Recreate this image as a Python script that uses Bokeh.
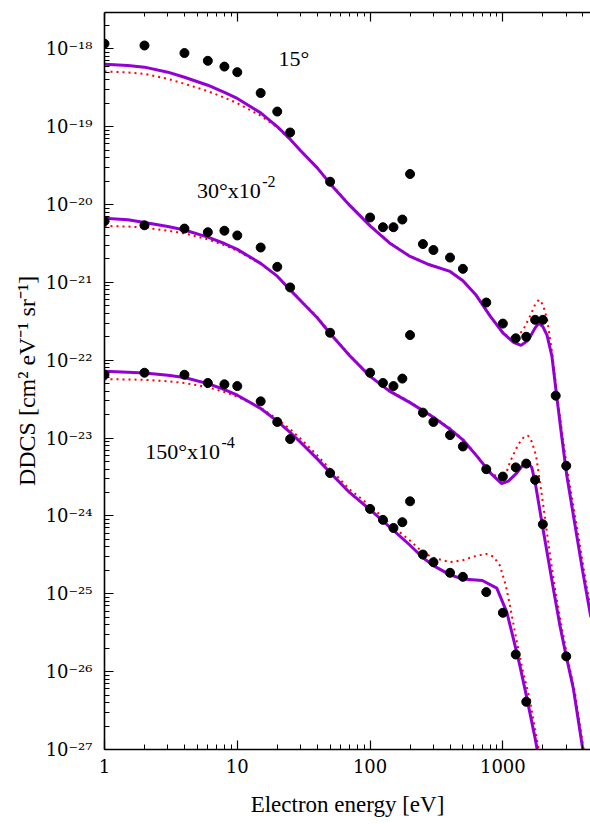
from bokeh.plotting import figure
from bokeh.models import Label, FixedTicker, LogAxis, Range1d, CustomJSTickFormatter
from bokeh.embed import file_html
from bokeh.resources import INLINE

# ---------------- data ----------------
# experimental points (15 deg, 30 deg x1e-2, 150 deg x1e-4)
e15_exp = [1, 2, 4, 6, 8, 10, 15, 20, 25, 50, 100, 125, 150, 175, 200, 250, 300, 400, 500,
           750, 1000, 1250, 1500, 1750, 2000, 2500, 3000]
v15_exp = [1.16e-18, 1.10e-18, 8.8e-19, 7.0e-19, 5.9e-19, 5.0e-19, 2.7e-19, 1.56e-19, 8.4e-20,
           1.96e-20, 6.8e-21, 5.1e-21, 5.1e-21, 6.4e-21, 2.46e-20, 3.1e-21, 2.6e-21, 2.08e-21,
           1.49e-21, 5.5e-22, 2.95e-22, 1.91e-22, 2.0e-22, 3.3e-22, 3.3e-22, 3.5e-23, 4.4e-24]

e30_exp = [1, 2, 4, 6, 8, 10, 15, 20, 25, 50, 100, 125, 150, 175, 200, 250, 300, 400, 500,
           750, 1000, 1250, 1500, 1750, 2000, 3000]
v30_exp = [6.1e-21, 5.4e-21, 4.9e-21, 4.4e-21, 4.6e-21, 4.0e-21, 2.8e-21, 1.58e-21, 8.6e-22,
           2.25e-22, 6.9e-23, 5.1e-23, 4.65e-23, 5.8e-23, 2.1e-22, 2.12e-23, 1.61e-23, 1.09e-23,
           7.8e-24, 3.98e-24, 3.2e-24, 4.2e-24, 4.7e-24, 2.9e-24, 7.8e-25, 1.57e-26]

e150_exp = [1, 2, 4, 6, 8, 10, 15, 20, 25, 50, 100, 125, 150, 175, 200, 250, 300, 400, 500,
            750, 1000, 1250, 1500]
v150_exp = [6.5e-23, 6.9e-23, 6.5e-23, 5.1e-23, 4.9e-23, 4.65e-23, 2.96e-23, 1.61e-23, 9.7e-24,
            3.55e-24, 1.23e-24, 8.9e-25, 7.0e-25, 8.3e-25, 1.54e-24, 3.19e-25, 2.54e-25, 1.86e-25,
            1.65e-25, 1.05e-25, 5.7e-26, 1.66e-26, 4.1e-27]

# theory, solid (purple)
e15_a = [1, 1.5, 2, 3, 4, 6, 8, 10, 15, 20, 25, 30, 40, 50, 70, 100, 140, 200, 280, 400, 500,
         630, 800, 1000, 1200, 1370, 1550, 1750, 1870, 2000, 2150, 2340, 2540, 2770, 3030, 3600,
         4000, 4600]
v15_a = [6.3e-19, 6.1e-19, 5.8e-19, 5.0e-19, 4.3e-19, 3.4e-19, 2.75e-19, 2.3e-19, 1.5e-19,
         1.0e-19, 6.9e-20, 4.9e-20, 2.95e-20, 1.85e-20, 9.8e-21, 5.3e-21, 3.2e-21, 2.15e-21,
         1.68e-21, 1.38e-21, 1.05e-21, 6.8e-22, 3.7e-22, 2.25e-22, 1.7e-22, 1.55e-22, 1.8e-22,
         2.6e-22, 3.0e-22, 2.7e-22, 2.1e-22, 1.13e-22, 3.5e-23, 1.07e-23, 3.3e-24, 5.6e-25,
         1.9e-25, 5e-26]

e30_a = [1, 1.5, 2, 3, 4, 6, 8, 10, 15, 20, 25, 30, 40, 50, 70, 100, 140, 200, 300, 400, 500,
         635, 800, 980, 1100, 1260, 1400, 1530, 1650, 1750, 2000, 2400, 2690, 3000, 3400, 4000,
         4600]
v30_a = [6.65e-21, 6.35e-21, 5.85e-21, 5.2e-21, 4.7e-21, 3.8e-21, 3.15e-21, 2.65e-21, 1.75e-21,
         1.2e-21, 8.0e-22, 5.8e-22, 3.5e-22, 2.2e-22, 1.15e-22, 6.2e-23, 4.0e-23, 2.85e-23,
         1.85e-23, 1.3e-23, 9.5e-24, 5.9e-24, 3.6e-24, 2.6e-24, 2.8e-24, 3.5e-24, 4.4e-24,
         4.9e-24, 4.2e-24, 2.7e-24, 7.0e-25, 1.16e-25, 3.9e-26, 1.58e-26, 6.0e-27, 1.0e-27,
         2.0e-28]

e150_a = [1, 1.5, 2, 3, 4, 6, 8, 10, 15, 20, 25, 30, 40, 50, 70, 100, 150, 200, 250, 300, 400,
          500, 700, 900, 1070, 1200, 1340, 1500, 1750, 2000]
v150_a = [7.2e-23, 7.0e-23, 6.85e-23, 6.4e-23, 6.0e-23, 5.0e-23, 4.2e-23, 3.55e-23, 2.4e-23,
          1.65e-23, 1.18e-23, 8.8e-24, 5.4e-24, 3.6e-24, 2.0e-24, 1.2e-24, 6.5e-25, 4.2e-25,
          2.9e-25, 2.3e-25, 1.75e-25, 1.55e-25, 1.48e-25, 1.18e-25, 5.8e-26, 2.65e-26, 1.21e-26,
          5.0e-27, 1.39e-27, 4e-28]

# theory, dotted (red)
e15_b = [1, 1.5, 2, 3, 4, 6, 8, 10, 15, 20, 25, 30, 40, 50, 70, 100, 140, 200, 280, 400, 500,
         630, 800, 1000, 1200, 1300, 1430, 1600, 1750, 1870, 2000, 2150, 2340, 2600, 2850, 3100,
         3700, 4100, 4600]
v15_b = [5.1e-19, 4.95e-19, 4.75e-19, 4.1e-19, 3.55e-19, 2.85e-19, 2.35e-19, 2.0e-19, 1.38e-19,
         9.8e-20, 6.8e-20, 4.9e-20, 3.0e-20, 1.88e-20, 1.0e-20, 5.4e-21, 3.25e-21, 2.18e-21,
         1.7e-21, 1.39e-21, 1.06e-21, 6.8e-22, 3.7e-22, 2.2e-22, 1.9e-22, 2.05e-22, 2.5e-22,
         3.66e-22, 5.2e-22, 6.0e-22, 5.2e-22, 3.4e-22, 1.3e-22, 2.9e-23, 9e-24, 3.3e-24, 5.6e-25,
         1.9e-25, 6e-26]

e30_b = [1, 1.5, 2, 3, 4, 6, 8, 10, 15, 20, 25, 30, 40, 50, 70, 100, 140, 200, 300, 400, 500,
         635, 800, 950, 1050, 1130, 1300, 1450, 1550, 1650, 1780, 2000, 2200, 2500, 2800, 3100,
         3500, 4100, 4600]
v30_b = [5.3e-21, 5.2e-21, 5.05e-21, 4.6e-21, 4.25e-21, 3.55e-21, 3.0e-21, 2.55e-21, 1.72e-21,
         1.2e-21, 8.1e-22, 5.9e-22, 3.6e-22, 2.25e-22, 1.17e-22, 6.3e-23, 4.1e-23, 2.9e-23,
         1.88e-23, 1.33e-23, 9.6e-24, 6.0e-24, 3.7e-24, 3.0e-24, 3.4e-24, 4.9e-24, 8.2e-24,
         1.05e-23, 1.07e-23, 9.0e-24, 5.9e-24, 1.5e-24, 4.5e-25, 1.0e-25, 3.4e-26, 1.4e-26,
         5.2e-27, 9e-28, 2.2e-28]

e150_b = [1, 1.5, 2, 3, 4, 6, 8, 10, 15, 20, 25, 30, 40, 50, 70, 100, 150, 200, 250, 300, 400,
          500, 600, 750, 850, 950, 1050, 1130, 1260, 1400, 1590, 1860, 2100]
v150_b = [5.7e-23, 5.65e-23, 5.6e-23, 5.35e-23, 5.1e-23, 4.5e-23, 3.9e-23, 3.4e-23, 2.45e-23,
          1.75e-23, 1.3e-23, 9.8e-24, 6.0e-24, 4.0e-24, 2.2e-24, 1.35e-24, 7.2e-25, 4.8e-25,
          3.4e-25, 2.9e-25, 2.55e-25, 2.7e-25, 3.0e-25, 3.25e-25, 3.0e-25, 2.3e-25, 1.3e-25,
          7.1e-26, 2.65e-26, 1.1e-26, 4.5e-27, 1.0e-27, 3e-28]

# axes / ticks / texts
x_major = [1, 10, 100, 1000]
x_tick_labels = ["1", "10", "100", "1000"]
y_exponents = [-18, -19, -20, -21, -22, -23, -24, -25, -26, -27]
y_tick_labels = ["10⁻¹⁸", "10⁻¹⁹", "10⁻²⁰", "10⁻²¹", "10⁻²²", "10⁻²³", "10⁻²⁴", "10⁻²⁵",
                 "10⁻²⁶", "10⁻²⁷"]
x_title = "Electron energy [eV]"
y_title = "DDCS [cm² eV⁻¹ sr⁻¹]"
curve_labels = [("15°", None), ("30°x10", "-2"), ("150°x10", "-4")]

# ---------------- figure ----------------
XMIN, XMAX = 1, 4570
YMIN, YMAX = 1e-27, 2.92e-18
FONT = "Liberation Serif"
TICK_FONT = "DejaVu Serif"
PURPLE = "#9400D3"
RED = "#FF0000"

p = figure(width=590, height=824, x_axis_type="log", y_axis_type="log",
           x_range=Range1d(XMIN, XMAX), y_range=Range1d(YMIN, YMAX),
           output_backend="svg", toolbar_location=None,
           min_border_left=104, min_border_right=0, min_border_top=12, min_border_bottom=75)
p.xgrid.visible = False
p.ygrid.visible = False
p.outline_line_color = None
p.background_fill_color = "white"
p.border_fill_color = "white"

bottom_axis = p.below[0]
left_axis = p.left[0]
top_axis = LogAxis()
p.add_layout(top_axis, "above")

x_minor = [m * 10 ** k for k in range(0, 4) for m in range(2, 10) if m * 10 ** k < XMAX]
y_minor = [m * 10.0 ** k for k in range(-27, -17) for m in range(2, 10) if m * 10.0 ** k < YMAX]
xt = FixedTicker(ticks=x_major, minor_ticks=x_minor)
yt = FixedTicker(ticks=[10.0 ** e for e in y_exponents], minor_ticks=y_minor)

for ax, tk in [(bottom_axis, xt), (top_axis, xt), (left_axis, yt)]:
    ax.ticker = tk
    ax.major_tick_in = 9
    ax.major_tick_out = 0
    ax.minor_tick_in = 5
    ax.minor_tick_out = 0
    ax.axis_line_width = 1.6
    ax.axis_line_color = "black"
    ax.major_tick_line_color = "black"
    ax.minor_tick_line_color = "black"
    ax.major_tick_line_width = 1.2
    ax.minor_tick_line_width = 1.0
    ax.major_label_text_font = TICK_FONT
    ax.major_label_text_font_size = "18px"
    ax.major_label_text_color = "black"
    ax.axis_label_text_font = FONT
    ax.axis_label_text_font_style = "normal"
    ax.axis_label_text_color = "black"
top_axis.minor_tick_in = 4
top_axis.formatter = CustomJSTickFormatter(code="return ''")
top_axis.major_label_standoff = 0

bottom_axis.formatter = CustomJSTickFormatter(
    args=dict(vals=x_major, labs=x_tick_labels),
    code="const i = vals.indexOf(Math.round(tick)); return i >= 0 ? labs[i] : '';")
bottom_axis.major_label_standoff = 9
bottom_axis.axis_label = x_title
bottom_axis.axis_label_text_font_size = "23px"
bottom_axis.axis_label_standoff = 16

left_axis.formatter = CustomJSTickFormatter(
    args=dict(exps=y_exponents, labs=y_tick_labels),
    code="const i = exps.indexOf(Math.round(Math.log10(tick))); return i >= 0 ? labs[i] : '';")
left_axis.major_label_standoff = 12
left_axis.axis_label = y_title
left_axis.axis_label_text_font_size = "24px"
left_axis.axis_label_standoff = 3

# theory curves
p.line(e15_b, v15_b, line_color=RED, line_width=2, line_dash="2 4")
p.line(e30_b, v30_b, line_color=RED, line_width=2, line_dash="2 4")
p.line(e150_b, v150_b, line_color=RED, line_width=2, line_dash="2 4")
p.line(e15_a, v15_a, line_color=PURPLE, line_width=3)
p.line(e30_a, v30_a, line_color=PURPLE, line_width=3)
p.line(e150_a, v150_a, line_color=PURPLE, line_width=3)

# experiment
for ex, vy in [(e15_exp, v15_exp), (e30_exp, v30_exp), (e150_exp, v150_exp)]:
    p.scatter(ex, vy, size=9, color="black")

# ---------------- curve labels (inside the frame) ----------------
W = {"0": 500, "1": 500, "2": 500, "3": 500, "4": 500, "5": 500, "6": 500, "7": 500,
     "8": 500, "9": 500, "-": 333, " ": 250, "°": 400, "x": 500}


def tw(s, size):
    return sum(W.get(ch, 500) for ch in s) * size / 1000.0


def lab(text, xo, yo, size):
    p.add_layout(Label(x=XMIN, y=YMIN, x_offset=xo, y_offset=yo, text=text,
                       text_font=FONT, text_font_size=f"{size}px", text_color="black",
                       text_align="left", text_baseline="alphabetic"))


LF, LS = 22, 16
label_pos = [(174.0, 691.0), (92.4, 558.6), (40.7, 297.6)]
for (base, sup), (xo, yo) in zip(curve_labels, label_pos):
    lab(base, xo, yo, LF)
    if sup:
        lab(sup, xo + tw(base, LF) + 1.5, yo + 9.0, LS)

open("out.html", "w").write(file_html(p, INLINE))
